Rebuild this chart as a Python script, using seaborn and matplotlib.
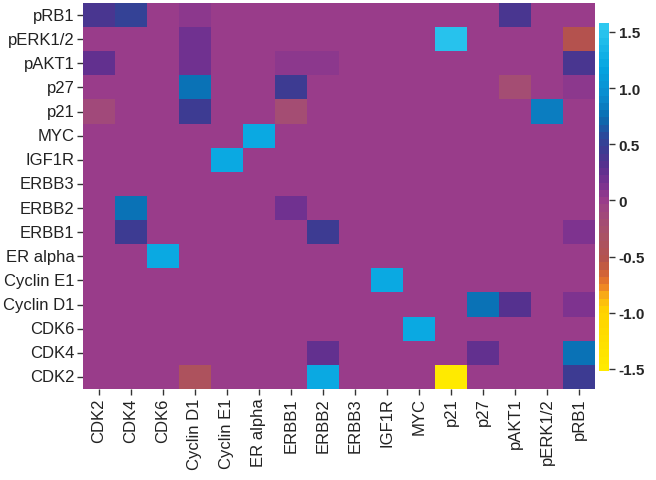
import matplotlib
matplotlib.use("Agg")
import matplotlib.pyplot as plt
from matplotlib.colors import LinearSegmentedColormap
import numpy as np
import pandas as pd
import seaborn as sns

sns.set_theme(style="white")
plt.rcParams["font.family"] = ["Liberation Sans", "DejaVu Sans"]

row_labels = ["pRB1", "pERK1/2", "pAKT1", "p27", "p21", "MYC", "IGF1R", "ERBB3",
              "ERBB2", "ERBB1", "ER alpha", "Cyclin E1", "Cyclin D1", "CDK6", "CDK4", "CDK2"]
col_labels = ["CDK2", "CDK4", "CDK6", "Cyclin D1", "Cyclin E1", "ER alpha", "ERBB1", "ERBB2",
              "ERBB3", "IGF1R", "MYC", "p21", "p27", "pAKT1", "pERK1/2", "pRB1"]

# one list per row, columns in col_labels order
pRB1_row     = [0.38, 0.50, 0, 0.04, 0, 0, 0, 0, 0, 0, 0, 0, 0, 0.40, 0, 0]
pERK12_row   = [0, 0, 0, 0.20, 0, 0, 0, 0, 0, 0, 0, 1.50, 0, 0, 0, -0.55]
pAKT1_row    = [0.28, 0, 0, 0.20, 0, 0, 0.04, 0.04, 0, 0, 0, 0, 0, 0, 0, 0.38]
p27_row      = [0, 0, 0, 0.75, 0, 0, 0.45, 0, 0, 0, 0, 0, 0, -0.20, 0, 0.06]
p21_row      = [-0.15, 0, 0, 0.45, 0, 0, -0.22, 0, 0, 0, 0, 0, 0, 0, 0.85, 0]
MYC_row      = [0, 0, 0, 0, 0, 1.20, 0, 0, 0, 0, 0, 0, 0, 0, 0, 0]
IGF1R_row    = [0, 0, 0, 0, 1.20, 0, 0, 0, 0, 0, 0, 0, 0, 0, 0, 0]
ERBB3_row    = [0, 0, 0, 0, 0, 0, 0, 0, 0, 0, 0, 0, 0, 0, 0, 0]
ERBB2_row    = [0, 0.75, 0, 0, 0, 0, 0.22, 0, 0, 0, 0, 0, 0, 0, 0, 0]
ERBB1_row    = [0, 0.42, 0, 0, 0, 0, 0, 0.48, 0, 0, 0, 0, 0, 0, 0, 0.10]
ERalpha_row  = [0, 0, 1.20, 0, 0, 0, 0, 0, 0, 0, 0, 0, 0, 0, 0, 0]
CyclinE1_row = [0, 0, 0, 0, 0, 0, 0, 0, 0, 1.20, 0, 0, 0, 0, 0, 0]
CyclinD1_row = [0, 0, 0, 0, 0, 0, 0, 0, 0, 0, 0, 0, 0.80, 0.30, 0, 0.10]
CDK6_row     = [0, 0, 0, 0, 0, 0, 0, 0, 0, 0, 1.20, 0, 0, 0, 0, 0]
CDK4_row     = [0, 0, 0, 0, 0, 0, 0, 0.25, 0, 0, 0, 0, 0.25, 0, 0, 0.80]
CDK2_row     = [0, 0, 0, -0.42, 0, 0, 0, 1.22, 0, 0, 0, -1.52, 0, 0, 0, 0.45]

rows = [pRB1_row, pERK12_row, pAKT1_row, p27_row, p21_row, MYC_row, IGF1R_row, ERBB3_row,
        ERBB2_row, ERBB1_row, ERalpha_row, CyclinE1_row, CyclinD1_row, CDK6_row, CDK4_row, CDK2_row]
df = pd.DataFrame(rows, index=row_labels, columns=col_labels)

vmin, vmax = -1.52, 1.58
stops = [
    (-1.52, "#ffea00"), (-1.0, "#ffd200"), (-0.88, "#fbb514"), (-0.8, "#f08a22"),
    (-0.7, "#dc6a30"), (-0.55, "#b5524c"), (-0.3, "#a85268"), (-0.1, "#a0477e"),
    (0.0, "#993c8a"), (0.15, "#7a3290"), (0.3, "#5a2f8f"), (0.45, "#3e3a91"),
    (0.6, "#2a4a9c"), (0.75, "#0a6cb0"), (0.95, "#0b8ccf"), (1.2, "#04a4e0"),
    (1.58, "#2ec8f0"),
]
cmap = LinearSegmentedColormap.from_list(
    "custom", [((v - vmin) / (vmax - vmin), c) for v, c in stops]
).resampled(48)

fig = plt.figure(figsize=(6.56, 4.81), dpi=100)
ax = fig.add_axes([0.1265, 0.1892, 0.7805, 0.8025])
cax = fig.add_axes([0.913, 0.2266, 0.0152, 0.7235])

sns.heatmap(df, ax=ax, cbar_ax=cax, cmap=cmap, vmin=vmin, vmax=vmax,
            cbar_kws={"ticks": [1.5, 1.0, 0.5, 0, -0.5, -1.0, -1.5]})

ax.tick_params(axis="both", which="both", length=4, width=1, color="#333333",
               labelsize=12, labelcolor="#222222", bottom=True, left=True, pad=2)
ax.set_xticklabels(col_labels, rotation=90)
ax.set_yticklabels(row_labels, rotation=0)
ax.set_xlabel("")
ax.set_ylabel("")

cbar = ax.collections[0].colorbar
cbar.outline.set_visible(False)
cbar.ax.tick_params(length=4, width=1, color="#333333", labelsize=11, pad=3)
cbar.ax.set_yticklabels(["1.5", "1.0", "0.5", "0", "-0.5", "-1.0", "-1.5"], fontweight="bold")

fig.savefig("out.png", dpi=100)
